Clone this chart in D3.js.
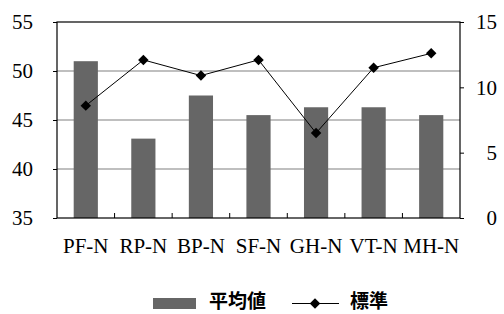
<!DOCTYPE html>
<html>
<head>
<meta charset="utf-8">
<script src="https://cdn.jsdelivr.net/npm/d3@7"></script>
<style>
  body { margin: 0; background: #fff; }
  svg { display: block; }
</style>
</head>
<body>
<div id="chart"></div>
<script>
'use strict'

// data
const categories = ['PF-N', 'RP-N', 'BP-N', 'SF-N', 'GH-N', 'VT-N', 'MH-N']
const meanValues = [51.0, 43.1, 47.5, 45.5, 46.3, 46.3, 45.5]
const stdValues = [8.6, 12.1, 10.9, 12.1, 6.5, 11.5, 12.6]
const leftTicks = [35, 40, 45, 50, 55]
const rightTicks = [0, 5, 10, 15]
const legendLabels = ['平均値', '標準']

const svgWidth = 504
const svgHeight = 314
const margin = { left: 57, right: 44, top: 22, bottom: 96 }
const width = svgWidth - margin.left - margin.right
const height = svgHeight - margin.top - margin.bottom

const serif = '"Liberation Serif", "DejaVu Serif", serif'

const svg = d3.select('#chart')
    .append('svg')
    .attr('width', svgWidth)
    .attr('height', svgHeight)

const g = svg.append('g')
    .attr('transform', `translate(${margin.left},${margin.top})`)

const x = d3.scaleBand().domain(categories).range([0, width]).padding(0)
const yL = d3.scaleLinear().domain([35, 55]).range([height, 0])
const yR = d3.scaleLinear().domain([0, 15]).range([height, 0])

// gridlines
g.append('g')
    .selectAll('line')
    .data(leftTicks.filter(d => d > 35 && d < 55))
    .join('line')
    .attr('x1', 0).attr('x2', width)
    .attr('y1', d => yL(d)).attr('y2', d => yL(d))
    .attr('stroke', '#808080')
    .attr('stroke-width', 1.2)

// bars
const barW = x.bandwidth() * 0.42
g.append('g')
    .selectAll('rect')
    .data(meanValues)
    .join('rect')
    .attr('x', (d, i) => x(categories[i]) + (x.bandwidth() - barW) / 2)
    .attr('y', d => yL(d))
    .attr('width', barW)
    .attr('height', d => height - yL(d))
    .attr('fill', '#666666')

// frame
g.append('rect')
    .attr('x', 0).attr('y', 0)
    .attr('width', width).attr('height', height)
    .attr('fill', 'none')
    .attr('stroke', '#000')
    .attr('stroke-width', 1.2)

// left axis
const axL = g.append('g')
    .call(d3.axisLeft(yL).tickValues(leftTicks).tickSize(4).tickPadding(20))
axL.select('.domain').remove()
axL.selectAll('text')
    .style('font-family', serif)
    .style('font-size', '21px')
    .attr('fill', '#000')

// right axis, labels right-aligned
const axR = g.append('g')
    .attr('transform', `translate(${width},0)`)
    .call(d3.axisRight(yR).tickValues(rightTicks).tickSize(4).tickPadding(0))
axR.select('.domain').remove()
axR.selectAll('text')
    .attr('x', 37)
    .attr('text-anchor', 'end')
    .style('font-family', serif)
    .style('font-size', '21px')
    .attr('fill', '#000')

// bottom inner ticks at category boundaries
g.append('g')
    .selectAll('line')
    .data(categories.slice(1))
    .join('line')
    .attr('x1', d => x(d)).attr('x2', d => x(d))
    .attr('y1', height).attr('y2', height - 5)
    .attr('stroke', '#000')

// category labels
g.append('g')
    .selectAll('text')
    .data(categories)
    .join('text')
    .attr('x', d => x(d) + x.bandwidth() / 2)
    .attr('y', height + 35)
    .attr('text-anchor', 'middle')
    .style('font-family', serif)
    .style('font-size', '21px')
    .text(d => d)

// std line
const line = d3.line()
    .x((d, i) => x(categories[i]) + x.bandwidth() / 2)
    .y(d => yR(d))

g.append('path')
    .datum(stdValues)
    .attr('d', line)
    .attr('fill', 'none')
    .attr('stroke', '#000')
    .attr('stroke-width', 1)

const diamond = d3.symbol().type(d3.symbolDiamond2).size(70)
g.append('g')
    .selectAll('path')
    .data(stdValues)
    .join('path')
    .attr('transform', (d, i) => `translate(${x(categories[i]) + x.bandwidth() / 2},${yR(d)})`)
    .attr('d', diamond)
    .attr('fill', '#000')

// legend
const legend = svg.append('g')
    .style('font-family', '"Noto Sans CJK JP", "Noto Sans CJK SC", sans-serif')
    .style('font-size', '19px')
    .style('font-weight', '600')

legend.append('rect')
    .attr('x', 153).attr('y', 298)
    .attr('width', 43).attr('height', 11)
    .attr('fill', '#666666')

legend.append('text')
    .attr('x', 209).attr('y', 308)
    .text(legendLabels[0])

legend.append('line')
    .attr('x1', 292).attr('x2', 339)
    .attr('y1', 303.5).attr('y2', 303.5)
    .attr('stroke', '#000')
    .attr('stroke-width', 1.2)

legend.append('path')
    .attr('transform', 'translate(315,303.5)')
    .attr('d', diamond)
    .attr('fill', '#000')

legend.append('text')
    .attr('x', 350).attr('y', 308)
    .text(legendLabels[1])
</script>
</body>
</html>
